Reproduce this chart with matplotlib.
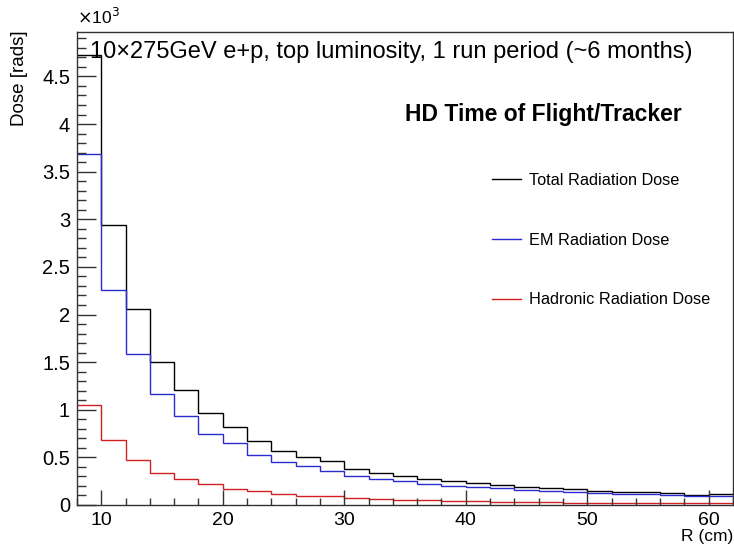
import matplotlib
matplotlib.use("Agg")
import matplotlib.pyplot as plt
from matplotlib.ticker import MultipleLocator, FuncFormatter
import numpy as np

plt.rcParams['font.family'] = ['Liberation Sans', 'DejaVu Sans']

# Bin edges (cm) and doses in units of 10^3 rads
bin_edges = list(range(8, 63, 2))
total_dose = [4.73, 2.935, 2.063, 1.504, 1.204, 0.970, 0.817, 0.673, 0.569, 0.503,
              0.457, 0.383, 0.341, 0.300, 0.275, 0.247, 0.226, 0.205, 0.190, 0.178,
              0.164, 0.143, 0.140, 0.132, 0.122, 0.108, 0.111]
em_dose = [3.686, 2.254, 1.587, 1.165, 0.938, 0.743, 0.649, 0.530, 0.453, 0.408,
           0.362, 0.300, 0.275, 0.251, 0.223, 0.202, 0.188, 0.178, 0.160, 0.150,
           0.136, 0.125, 0.118, 0.118, 0.108, 0.097, 0.090]
had_dose = [1.050, 0.681, 0.474, 0.341, 0.275, 0.220, 0.171, 0.143, 0.115, 0.097,
            0.090, 0.073, 0.063, 0.056, 0.052, 0.045, 0.038, 0.036, 0.030, 0.028,
            0.026, 0.024, 0.023, 0.022, 0.021, 0.020, 0.020]
labels = ["Total Radiation Dose", "EM Radiation Dose", "Hadronic Radiation Dose"]

W, H = 734, 544
fig = plt.figure(figsize=(W / 100, H / 100), dpi=100)
ax = fig.add_axes([77 / W, 1 - 505 / H, (733 - 77) / W, (505 - 32) / H])

ax.stairs(total_dose, bin_edges, baseline=None, color='black', lw=1.0, label=labels[0])
ax.stairs(em_dose, bin_edges, baseline=None, color='#2a2ad0', lw=1.0, label=labels[1])
ax.stairs(had_dose, bin_edges, baseline=None, color='#d02020', lw=1.0, label=labels[2])

ax.set_xlim(8, 62)
ax.set_ylim(0, max(total_dose) * 1.05)

ax.xaxis.set_major_locator(MultipleLocator(10))
ax.xaxis.set_minor_locator(MultipleLocator(2))
ax.yaxis.set_major_locator(MultipleLocator(0.5))
ax.yaxis.set_minor_locator(MultipleLocator(0.1))
ax.yaxis.set_major_formatter(FuncFormatter(lambda v, p: '%g' % v))

ax.tick_params(axis='both', which='both', direction='in', top=False, right=False,
               color='#333333', width=1.0)
ax.tick_params(axis='y', which='major', length=14, labelsize=14.5, pad=5)
ax.tick_params(axis='y', which='minor', length=6.5)
ax.tick_params(axis='x', which='major', length=10.5, labelsize=14, pad=5)
ax.tick_params(axis='x', which='minor', length=5)

for s in ax.spines.values():
    s.set_color('#333333')
    s.set_linewidth(1.0)

fig.text(20 / W, 1 - 30 / H, "Dose [rads]", rotation=90, ha='center', va='top', fontsize=13.5)
fig.text(733 / W, 1 - 544 / H, "R (cm)", ha='right', va='bottom', fontsize=12.5)
fig.text(77 / W, 1 - 17 / H, r"$\times$10$^{3}$", ha='left', va='center', fontsize=12.5,
         math_fontfamily='dejavusans')

fig.text(90 / W, 1 - 52 / H, "10\u00d7275GeV e+p, top luminosity, 1 run period (~6 months)",
         ha='left', va='center', fontsize=17)
fig.text(405 / W, 1 - 115 / H, "HD Time of Flight/Tracker", ha='left', va='center',
         fontsize=16.5, fontweight='bold')

leg = ax.legend(loc='upper left', bbox_to_anchor=(492 / W, 1 - 173 / H),
                bbox_transform=fig.transFigure, frameon=False, fontsize=11.7,
                handlelength=1.8, handletextpad=0.5, labelspacing=2.75,
                borderpad=0, borderaxespad=0)

fig.savefig("out.png", dpi=100)
